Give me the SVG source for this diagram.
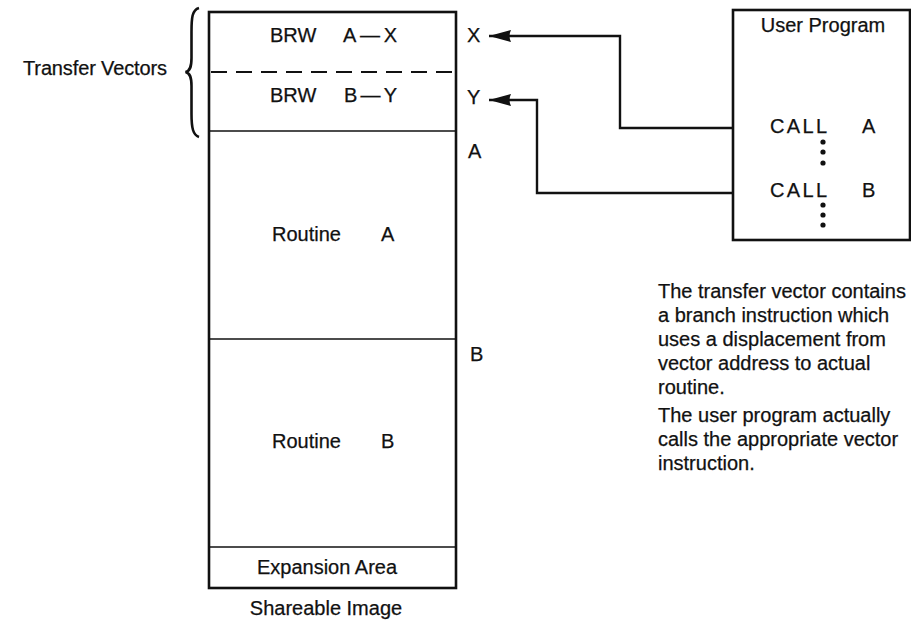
<svg xmlns="http://www.w3.org/2000/svg" width="911" height="621" viewBox="0 0 911 621">
<style>
text { font-family: "Liberation Sans", Arial, sans-serif; font-size: 20px; fill: #111; stroke: #111; stroke-width: 0.25; }
.outline { fill: none; stroke: #111; stroke-width: 2.6; }
.div { stroke: #111; stroke-width: 1.6; fill: none; }
.dash { stroke: #111; stroke-width: 1.8; stroke-dasharray: 16 9; fill: none; }
.conn { fill: none; stroke: #111; stroke-width: 2.4; }
.mid { text-anchor: middle; }
</style>
<defs>
<marker id="arrow" viewBox="0 0 22 12" refX="22" refY="6" markerWidth="22" markerHeight="12" markerUnits="userSpaceOnUse" orient="auto">
<path d="M0,0 L22,6 L0,12 Q3,6 0,0 z" fill="#111"/>
</marker>
</defs>
<rect width="911" height="621" fill="#fff"/>

<g id="transfer-vectors-label">
<text x="23" y="75" textLength="144" lengthAdjust="spacing">Transfer Vectors</text>
<path d="M199,8 C192,10 191.5,18 191.5,32 L191.5,58 C191.5,67 190,71 185.5,72 C190,73 191.5,77 191.5,86 L191.5,114 C191.5,128 193,135 199,137" fill="none" stroke="#111" stroke-width="2.6"/>
</g>

<g id="shareable-image">
<rect class="outline" x="209" y="12" width="247" height="576"/>
<line class="dash" x1="211" y1="72" x2="455" y2="72"/>
<line class="div" x1="209" y1="131" x2="456" y2="131"/>
<line class="div" x1="209" y1="339" x2="456" y2="339"/>
<line class="div" x1="209" y1="547" x2="456" y2="547"/>
</g>

<g id="vector-x">
<text x="270" y="42"><tspan x="270">BRW</tspan><tspan x="343" textLength="54" lengthAdjust="spacing">A—X</tspan></text>
</g>
<g id="vector-y">
<text x="270" y="102"><tspan x="270">BRW</tspan><tspan x="344" textLength="53" lengthAdjust="spacing">B—Y</tspan></text>
</g>
<g id="routine-a">
<text x="272" y="241"><tspan x="272">Routine</tspan><tspan x="381">A</tspan></text>
</g>
<g id="routine-b">
<text x="272" y="448"><tspan x="272">Routine</tspan><tspan x="381">B</tspan></text>
</g>
<g id="expansion-area">
<text class="mid" x="327" y="574">Expansion Area</text>
</g>
<g id="shareable-image-label">
<text class="mid" x="326" y="615">Shareable Image</text>
</g>

<g id="address-labels">
<text x="467" y="42">X</text>
<text x="467" y="104">Y</text>
<text x="468" y="158">A</text>
<text x="470" y="361">B</text>
</g>

<g id="user-program">
<rect class="outline" x="733" y="10" width="177" height="230"/>
<text class="mid" x="823" y="32">User Program</text>
<text x="770" y="133"><tspan x="770" textLength="57" lengthAdjust="spacing">CALL</tspan><tspan x="862">A</tspan></text>
<text x="770" y="197"><tspan x="770" textLength="57" lengthAdjust="spacing">CALL</tspan><tspan x="862">B</tspan></text>
<circle cx="823" cy="142" r="2.6" fill="#111"/>
<circle cx="823" cy="152" r="2.6" fill="#111"/>
<circle cx="823" cy="163" r="2.6" fill="#111"/>
<circle cx="823" cy="205" r="2.6" fill="#111"/>
<circle cx="823" cy="215" r="2.6" fill="#111"/>
<circle cx="823" cy="225" r="2.6" fill="#111"/>
</g>

<g id="connectors">
<path class="conn" d="M733,128 H620 V36 H489" marker-end="url(#arrow)"/>
<path class="conn" d="M733,193 H537 V100 H489" marker-end="url(#arrow)"/>
</g>

<g id="note">
<text x="658" y="298">The transfer vector contains</text>
<text x="658" y="322">a branch instruction which</text>
<text x="658" y="346">uses a displacement from</text>
<text x="658" y="370">vector address to actual</text>
<text x="658" y="394">routine.</text>
<text x="658" y="422">The user program actually</text>
<text x="658" y="446">calls the appropriate vector</text>
<text x="658" y="470">instruction.</text>
</g>
</svg>
